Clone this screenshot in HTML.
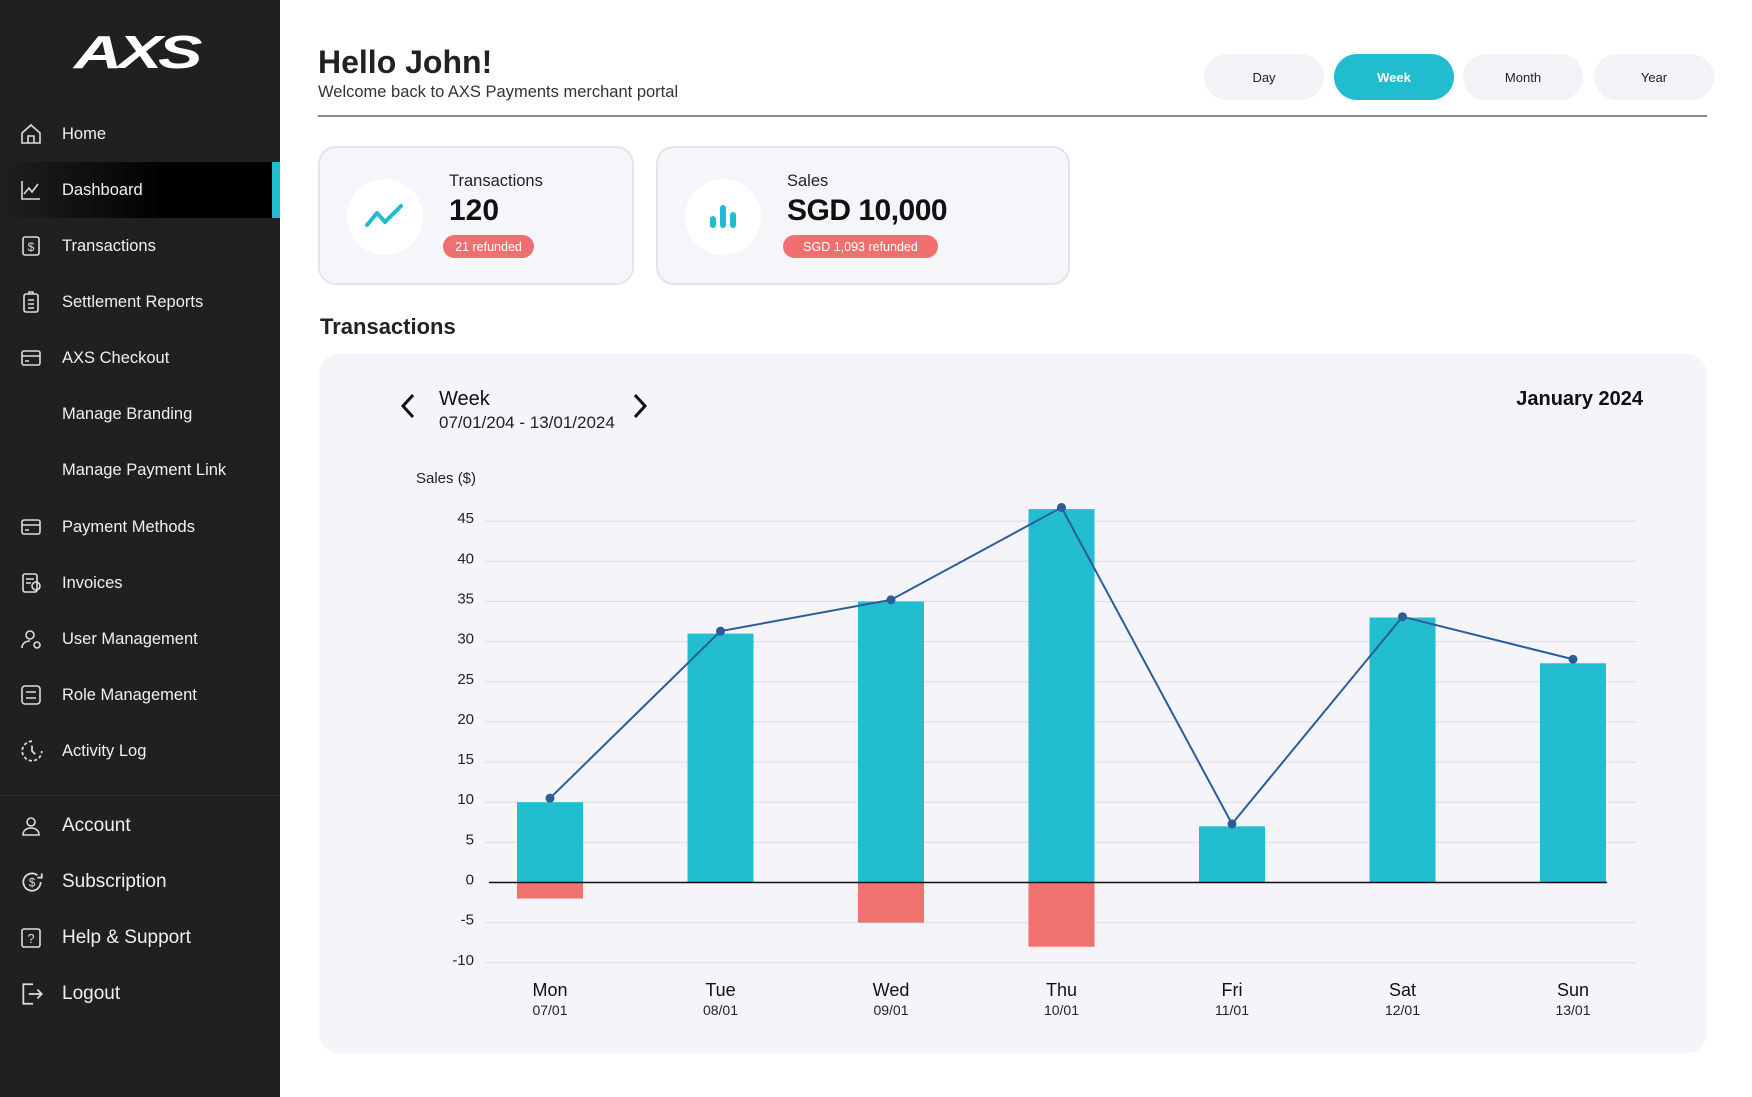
<!DOCTYPE html>
<html><head><meta charset="utf-8">
<style>
*{box-sizing:border-box;margin:0;padding:0}
body{width:1752px;height:1097px;position:relative;background:#fff;font-family:"Liberation Sans",sans-serif;overflow:hidden;color:#111}
.abs{position:absolute}
#sidebar{left:0;top:0;width:280px;height:1097px;background:#202020}
.nav{position:absolute;left:0;width:280px;height:56px;color:#f0f0f0;font-size:16.5px;display:flex;align-items:center}
.nav span{position:absolute;left:62px}
.nav svg{position:absolute;left:19px}
.nav.big{font-size:19px}
.btn{position:absolute;top:54px;width:120px;height:46px;border-radius:23px;background:#f3f3f7;font-size:13px;display:flex;align-items:center;justify-content:center;color:#222}
.card{position:absolute;top:146px;height:139px;border:2px solid #e3e3ec;border-radius:18px;background:#f6f6fa}
.circ{position:absolute;width:76px;height:76px;border-radius:50%;background:#fff;top:31px}
.pill{position:absolute;height:23px;border-radius:12px;background:#f07070;color:#fff;font-size:12.5px;display:flex;align-items:center;justify-content:center}
</style></head><body>
<div id="sidebar" class="abs">
  <div class="abs" style="left:74px;top:30px;width:134px;height:44px;color:#fff;font-size:46px;font-weight:bold;font-style:italic;letter-spacing:-3px;line-height:44px;transform:scaleX(1.45);transform-origin:left">AXS</div>
  <div class="nav" style="top:106px"><svg width="24" height="24" viewBox="0 0 24 24" fill="none" stroke="#ddd" stroke-width="1.6"><path d="M3 11L12 3l9 8v10H3z M9 21v-7h6v7"/></svg><span>Home</span></div>
  <div class="nav" style="top:162px;background:linear-gradient(90deg,#202020,#000 60%)"><svg width="24" height="24" viewBox="0 0 24 24" fill="none" stroke="#ddd" stroke-width="1.6"><path d="M3 3v18h18 M5 16l5-6 3 4 6-8"/></svg><span>Dashboard</span><div class="abs" style="left:272px;top:0;width:8px;height:56px;background:#22bcd0"></div></div>
  <div class="nav" style="top:218px"><svg width="24" height="24" viewBox="0 0 24 24" fill="none" stroke="#ddd" stroke-width="1.6"><rect x="4" y="3" width="16" height="18" rx="2"/><text x="12" y="17" font-size="12" fill="#ddd" stroke="none" text-anchor="middle">$</text></svg><span>Transactions</span></div>
  <div class="nav" style="top:274px"><svg width="24" height="24" viewBox="0 0 24 24" fill="none" stroke="#ddd" stroke-width="1.6"><rect x="5" y="4" width="14" height="18" rx="2"/><path d="M9 10h6M9 14h6M9 18h6M10 4V2h4v2"/></svg><span>Settlement Reports</span></div>
  <div class="nav" style="top:330px"><svg width="24" height="24" viewBox="0 0 24 24" fill="none" stroke="#ddd" stroke-width="1.6"><rect x="3" y="5" width="18" height="14" rx="2"/><path d="M3 10h18M6 15h4"/></svg><span>AXS Checkout</span></div>
  <div class="nav" style="top:386px"><span>Manage Branding</span></div>
  <div class="nav" style="top:442px"><span>Manage Payment Link</span></div>
  <div class="nav" style="top:499px"><svg width="24" height="24" viewBox="0 0 24 24" fill="none" stroke="#ddd" stroke-width="1.6"><rect x="3" y="5" width="18" height="14" rx="2"/><path d="M3 10h18M6 15h4"/></svg><span>Payment Methods</span></div>
  <div class="nav" style="top:555px"><svg width="24" height="24" viewBox="0 0 24 24" fill="none" stroke="#ddd" stroke-width="1.6"><rect x="4" y="3" width="14" height="18" rx="2"/><circle cx="17" cy="15" r="4"/><path d="M7 8h8M7 12h5"/></svg><span>Invoices</span></div>
  <div class="nav" style="top:611px"><svg width="24" height="24" viewBox="0 0 24 24" fill="none" stroke="#ddd" stroke-width="1.6"><circle cx="11" cy="8" r="4"/><path d="M3 21c0-5 4-7 8-7"/><circle cx="18" cy="18" r="3"/></svg><span>User Management</span></div>
  <div class="nav" style="top:667px"><svg width="24" height="24" viewBox="0 0 24 24" fill="none" stroke="#ddd" stroke-width="1.6"><rect x="3" y="3" width="18" height="18" rx="3"/><path d="M7 9h10M7 15h10"/></svg><span>Role Management</span></div>
  <div class="nav" style="top:723px"><svg width="26" height="26" viewBox="0 0 24 24" fill="none" stroke="#ddd" stroke-width="1.6"><path d="M12 3a9 9 0 1 0 9 9" stroke-dasharray="3 2"/><path d="M12 7v5l3 3"/></svg><span>Activity Log</span></div>
  <div class="abs" style="left:0;top:795px;width:280px;height:1px;background:#333"></div>
  <div class="nav big" style="top:798px"><svg width="24" height="24" viewBox="0 0 24 24" fill="none" stroke="#ddd" stroke-width="1.6"><circle cx="12" cy="8" r="4"/><path d="M4 21c0-5 4-7 8-7s8 2 8 7z"/></svg><span>Account</span></div>
  <div class="nav big" style="top:854px"><svg width="26" height="26" viewBox="0 0 24 24" fill="none" stroke="#ddd" stroke-width="1.6"><path d="M20 12a8 8 0 1 1-3-6.2M21 4v4h-4"/><text x="12" y="16" font-size="11" fill="#ddd" stroke="none" text-anchor="middle">$</text></svg><span>Subscription</span></div>
  <div class="nav big" style="top:910px"><svg width="24" height="24" viewBox="0 0 24 24" fill="none" stroke="#ddd" stroke-width="1.6"><rect x="3" y="3" width="18" height="18" rx="2"/><text x="12" y="17" font-size="13" fill="#ddd" stroke="none" text-anchor="middle">?</text></svg><span>Help &amp; Support</span></div>
  <div class="nav big" style="top:966px"><svg width="26" height="26" viewBox="0 0 24 24" fill="none" stroke="#ddd" stroke-width="1.6"><path d="M13 3H4v18h9M9 12h12M17 8l4 4-4 4"/></svg><span>Logout</span></div>
</div>

<div class="abs" style="left:318px;top:44px;font-size:32px;font-weight:bold;color:#222">Hello John!</div>
<div class="abs" style="left:318px;top:83px;font-size:16.5px;color:#333">Welcome back to AXS Payments merchant portal</div>
<div class="abs" style="left:318px;top:115px;width:1389px;height:1.5px;background:#888"></div>
<div class="btn" style="left:1204px">Day</div>
<div class="btn" style="left:1334px;background:#22bcd0;color:#fff;font-weight:bold">Week</div>
<div class="btn" style="left:1463px">Month</div>
<div class="btn" style="left:1594px">Year</div>

<div class="card" style="left:318px;width:316px">
  <div class="circ" style="left:27px"><svg width="76" height="76" viewBox="0 0 76 76" fill="none" stroke="#22bcd0" stroke-width="4" stroke-linecap="round" stroke-linejoin="round"><path d="M20 46l10-12 8 9 16-16"/></svg></div>
  <div class="abs" style="left:129px;top:24px;font-size:16.5px;color:#222">Transactions</div>
  <div class="abs" style="left:129px;top:46px;font-size:30px;font-weight:bold;color:#111">120</div>
  <div class="pill" style="left:123px;top:87px;width:91px">21 refunded</div>
</div>
<div class="card" style="left:656px;width:414px">
  <div class="circ" style="left:27px"><svg width="76" height="76" viewBox="0 0 76 76" fill="#22bcd0"><rect x="25" y="37" width="6" height="12" rx="3"/><rect x="35" y="26" width="6" height="23" rx="3"/><rect x="45" y="33" width="6" height="16" rx="3"/></svg></div>
  <div class="abs" style="left:129px;top:24px;font-size:16.5px;color:#222">Sales</div>
  <div class="abs" style="left:129px;top:46px;font-size:30px;font-weight:bold;color:#111;letter-spacing:-0.5px">SGD 10,000</div>
  <div class="pill" style="left:125px;top:87px;width:155px">SGD 1,093 refunded</div>
</div>

<div class="abs" style="left:320px;top:314px;font-size:22px;font-weight:bold;color:#222">Transactions</div>
<div class="abs" style="left:319px;top:354px;width:1388px;height:699px;background:#f5f5f9;border-radius:20px"></div>
<div class="abs" style="left:398px;top:391px"><svg width="20" height="30"><path d="M15 4L5 15l10 11" fill="none" stroke="#111" stroke-width="3"/></svg></div>
<div class="abs" style="left:439px;top:388px;font-size:20px;color:#111">Week</div>
<div class="abs" style="left:439px;top:413px;font-size:17px;color:#222">07/01/204 - 13/01/2024</div>
<div class="abs" style="left:630px;top:391px"><svg width="20" height="30"><path d="M5 4l10 11L5 26" fill="none" stroke="#111" stroke-width="3"/></svg></div>
<div class="abs" style="left:1443px;width:200px;text-align:right;top:388px;font-size:20px;font-weight:bold;color:#111">January 2024</div>

<svg id="chart" class="abs" style="left:0;top:0" width="1752" height="1097"></svg>
<script>
const days=["Mon","Tue","Wed","Thu","Fri","Sat","Sun"];
const dates=["07/01","08/01","09/01","10/01","11/01","12/01","13/01"];
const sales=[10,31,35,46.5,7,33,27.3];
const refunds=[-2,0,-5,-8,0,0,0];
const lineVals=[10.5,31.3,35.2,46.7,7.3,33.1,27.8];
const yTicks=[-10,-5,0,5,10,15,20,25,30,35,40,45];

const NS="http://www.w3.org/2000/svg";
const svg=document.getElementById('chart');
const y=v=>882.5-v*8.03;
const x=i=>550+i*170.5;
const BW=66;
function mk(t,a){const e=document.createElementNS(NS,t);for(const k in a)e.setAttribute(k,a[k]);svg.appendChild(e);return e;}
const yt=mk('text',{x:416,y:483,'font-size':15,fill:'#222','font-family':'Liberation Sans, sans-serif'});
yt.textContent='Sales ($)';


yTicks.forEach(t=>{
  if(t!==0){const g=mk('line',{x1:485,x2:1636,y1:y(t),y2:y(t),stroke:'#dcdce6','stroke-width':1});
  
  }
  const l=mk('text',{x:474,y:y(t)+2,'font-size':15,fill:'#222','text-anchor':'end','font-family':'Liberation Sans, sans-serif'});
  l.textContent=t;
  
  
});
sales.forEach((v,i)=>{
  const b=mk('rect',{x:x(i)-BW/2,y:y(v),width:BW,height:y(0)-y(v),fill:'#22bed0'});
  
  
  if(refunds[i]<0){const r=mk('rect',{x:x(i)-BW/2,y:y(0),width:BW,height:y(refunds[i])-y(0),fill:'#f0726e'});
  
  }
  const d=mk('text',{x:x(i),y:996,'font-size':18,fill:'#111','text-anchor':'middle','font-family':'Liberation Sans, sans-serif'});
  d.textContent=days[i];
  
  
  const dt=mk('text',{x:x(i),y:1015,'font-size':14,fill:'#222','text-anchor':'middle','font-family':'Liberation Sans, sans-serif'});
  dt.textContent=dates[i];
  
  
});
const z=mk('line',{x1:489,x2:1607,y1:y(0),y2:y(0),stroke:'#111','stroke-width':1.5});


const pl=mk('polyline',{points:lineVals.map((v,i)=>x(i)+','+y(v)).join(' '),fill:'none',stroke:'#2c5d98','stroke-width':2});


lineVals.forEach((v,i)=>{
  const c=mk('circle',{cx:x(i),cy:y(v),r:4.5,fill:'#2c5d98'});
  
  
});
</script>
</body></html>
